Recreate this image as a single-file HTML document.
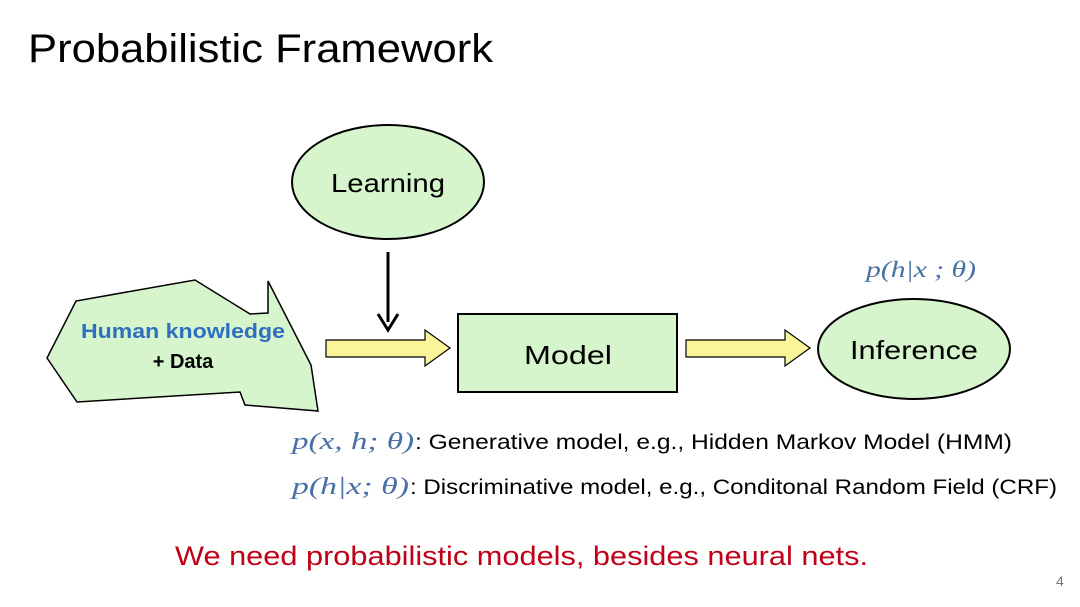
<!DOCTYPE html>
<html><head><meta charset="utf-8"><style>
html,body{margin:0;padding:0;background:#fff;}
svg{display:block;}
text{font-family:"Liberation Sans",sans-serif;}
.m{font-family:"Liberation Serif",serif;font-style:italic;fill:#4a6fa5;}
</style></head><body>
<svg width="1080" height="607" viewBox="0 0 1080 607" xmlns="http://www.w3.org/2000/svg">
<text x="28" y="62" font-size="40" textLength="465" lengthAdjust="spacingAndGlyphs" fill="#000">Probabilistic Framework</text>

<ellipse cx="388" cy="182" rx="96" ry="57" fill="#d6f5cc" stroke="#000" stroke-width="2"/>
<text x="388" y="192" font-size="26" text-anchor="middle" textLength="114" lengthAdjust="spacingAndGlyphs">Learning</text>

<line x1="388" y1="252" x2="388" y2="322" stroke="#000" stroke-width="3"/>
<polyline points="378,314 388,330 398,314" fill="none" stroke="#000" stroke-width="3"/>

<polygon points="47,358 76,301 195,280 250,314 268,313 268,281 311,365 318,411 245,405 240,392 77,402" fill="#d6f5cc" stroke="#000" stroke-width="1.5"/>
<text x="183" y="338" font-size="20" font-weight="bold" text-anchor="middle" fill="#2f6fc0" textLength="204" lengthAdjust="spacingAndGlyphs">Human knowledge</text>
<text x="183" y="368" font-size="20" font-weight="bold" text-anchor="middle" fill="#000">+ Data</text>

<polygon points="326,340 425,340 425,330 450,348 425,366 425,357 326,357" fill="#fbf59a" stroke="#000" stroke-width="1.2"/>
<polygon points="686,340 785,340 785,330 810,348 785,366 785,357 686,357" fill="#fbf59a" stroke="#000" stroke-width="1.2"/>

<rect x="458" y="314" width="219" height="78" fill="#d6f5cc" stroke="#000" stroke-width="2"/>
<text x="568" y="364" font-size="26" text-anchor="middle" textLength="88" lengthAdjust="spacingAndGlyphs">Model</text>

<ellipse cx="914" cy="349" rx="96" ry="50" fill="#d6f5cc" stroke="#000" stroke-width="2"/>
<text x="914" y="359" font-size="26" text-anchor="middle" textLength="128" lengthAdjust="spacingAndGlyphs">Inference</text>

<text x="866" y="277" font-size="23" class="m" textLength="110" lengthAdjust="spacingAndGlyphs">p(h|x ; θ)</text>

<text x="292" y="449" font-size="24" class="m" textLength="122" lengthAdjust="spacingAndGlyphs">p(x, h;  θ)</text>
<text x="415" y="449" font-size="21" fill="#000" textLength="597" lengthAdjust="spacingAndGlyphs">: Generative model, e.g., Hidden Markov Model (HMM)</text>
<text x="292" y="494" font-size="24" class="m" textLength="117" lengthAdjust="spacingAndGlyphs">p(h|x;  θ)</text>
<text x="410" y="494" font-size="21" fill="#000" textLength="647" lengthAdjust="spacingAndGlyphs">: Discriminative model, e.g., Conditonal Random Field (CRF)</text>

<text x="175" y="565" font-size="27" fill="#c00018" textLength="693" lengthAdjust="spacingAndGlyphs">We need probabilistic models, besides neural nets.</text>
<text x="1056" y="586" font-size="14" fill="#777">4</text>
</svg>
</body></html>
